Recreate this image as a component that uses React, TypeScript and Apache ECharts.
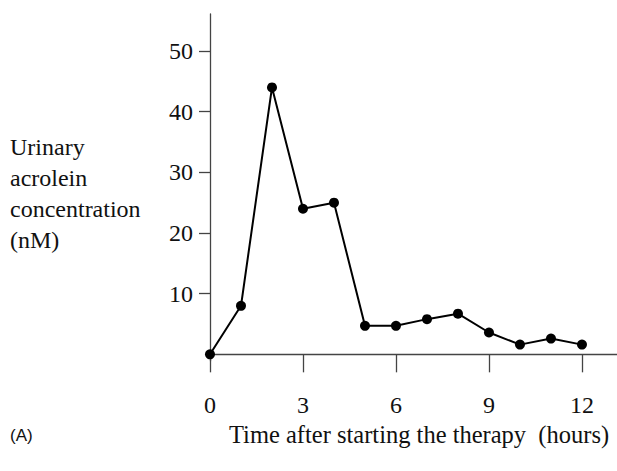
import React, { useEffect, useRef } from "react";
import * as echarts from "echarts";

const hours = [0, 1, 2, 3, 4, 5, 6, 7, 8, 9, 10, 11, 12];
const acrolein = [0, 8, 44, 24, 25, 4.7, 4.7, 5.8, 6.7, 3.6, 1.6, 2.6, 1.6];
const xTicks = [0, 3, 6, 9, 12];
const yTicks = [10, 20, 30, 40, 50];
const yTitleLines = ["Urinary", "acrolein", "concentration", "(nM)"];
const xTitle = "Time after starting the therapy  (hours)";
const panelLabel = "(A)";

const SERIF = "'Liberation Serif', 'Times New Roman', serif";

export default function App() {
  const ref = useRef<HTMLDivElement>(null);
  useEffect(() => {
    if (!ref.current) return;
    const chart = echarts.init(ref.current, null, { renderer: "svg" });
    chart.setOption({
      animation: false,
      backgroundColor: "#ffffff",
      grid: { left: 210, right: 0, top: 14, bottom: 110, containLabel: false },
      xAxis: {
        type: "value",
        min: 0,
        max: 13.13,
        axisLine: { show: true, lineStyle: { color: "#444", width: 1.3 } },
        axisTick: {
          show: true,
          customValues: xTicks,
          length: 18,
          lineStyle: { color: "#444", width: 1.3 },
        },
        axisLabel: {
          customValues: xTicks,
          margin: 32,
          color: "#111",
          fontFamily: SERIF,
          fontSize: 24,
        },
        splitLine: { show: false },
      },
      yAxis: {
        type: "value",
        min: -1.1,
        max: 56.1,
        axisLine: { show: true, lineStyle: { color: "#444", width: 1.3 } },
        axisTick: {
          show: true,
          customValues: yTicks,
          length: 11,
          lineStyle: { color: "#444", width: 1.3 },
        },
        axisLabel: {
          customValues: yTicks,
          margin: 17,
          color: "#111",
          fontFamily: SERIF,
          fontSize: 24,
        },
        splitLine: { show: false },
      },
      series: [
        {
          type: "line",
          data: hours.map((h, i) => [h, acrolein[i]]),
          symbol: "circle",
          symbolSize: 10,
          lineStyle: { color: "#000", width: 2 },
          itemStyle: { color: "#000" },
        },
      ],
      graphic: [
        {
          type: "text",
          left: 10,
          top: 131,
          style: {
            text: yTitleLines.join("\n"),
            font: `24px ${SERIF}`,
            lineHeight: 31,
            fill: "#111",
          },
        },
        {
          type: "text",
          left: 229,
          top: 422,
          style: {
            text: xTitle,
            font: `24.5px ${SERIF}`,
            fill: "#111",
          },
        },
        {
          type: "text",
          left: 10,
          top: 427,
          style: {
            text: panelLabel,
            font: `17px 'Liberation Sans', Arial, sans-serif`,
            fill: "#111",
          },
        },
      ],
    });
    return () => chart.dispose();
  }, []);
  return (
    <div
      ref={ref}
      style={{ position: "absolute", left: 0, top: 0, width: 617, height: 471 }}
    />
  );
}
